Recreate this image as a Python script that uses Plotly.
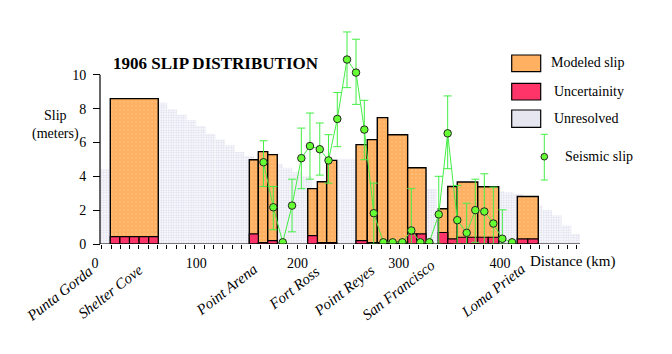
import numpy as np
import plotly.graph_objects as go

# ---------------- data ----------------
# Modeled slip segments (distance along fault, km) and slip (m)
bar_left = [15.1, 152.4, 161.3, 170.6, 210.1, 219.6, 228.8, 257.8, 268.9, 278.8,
            289.1, 308.8, 339.1, 348.4, 357.8, 378.0, 417.1]
bar_right = [62.5, 161.3, 170.6, 180.0, 219.6, 228.8, 238.7, 268.9, 278.8, 289.1,
             308.8, 326.9, 348.4, 357.8, 378.0, 398.7, 437.8]
modeled_slip = [8.59, 4.98, 5.46, 5.28, 3.27, 3.68, 4.94, 5.87, 6.17, 7.47,
                6.46, 4.51, 2.08, 3.40, 3.66, 3.38, 2.81]
uncertainty = [0.44, 0.60, 0.09, 0.20, 0.50, 0.08, 0.08, 0.20, 0.08, 0.08,
               0.10, 0.60, 0.68, 0.30, 0.40, 0.40, 0.30]
unc_cells = [5, 1, 1, 1, 1, 1, 1, 1, 1, 1, 2, 2, 1, 1, 2, 2, 2]

# Unresolved slip envelope (50 cells of 9.5 km starting at 4.94 km)
unres_start = 4.94
unres_step = 9.5
unresolved = [4.41, 8.40, 8.40, 8.40, 8.40, 8.40, 8.35, 7.96, 7.64, 7.31,
              6.97, 6.52, 6.18, 5.83, 5.43, 5.20, 5.00, 4.90, 4.74, 4.50,
              4.25, 4.00, 3.00, 3.50, 5.04, 5.04, 5.04, 5.00, 5.00, 5.00,
              4.80, 4.60, 4.40, 4.20, 3.27, 2.00, 3.20, 3.20, 3.20, 3.20,
              3.20, 3.12, 3.05, 2.97, 2.60, 2.28, 2.00, 1.69, 1.09, 0.60]

# Seismic slip estimates
seis_km = [166.4, 176.1, 185.4, 194.6, 203.8, 212.3, 222.0, 230.6, 239.3, 248.9,
           257.8, 266.0, 275.3, 284.7, 294.0, 303.5, 312.4, 321.3, 330.2, 339.5,
           348.3, 357.8, 367.1, 375.6, 384.5, 393.4, 402.3, 411.9]
seis_slip = [4.83, 2.17, 0.10, 2.27, 5.07, 5.79, 5.60, 4.94, 7.39, 10.90,
             10.13, 6.76, 1.82, 0.10, 0.10, 0.10, 0.80, 0.10, 0.10, 1.75,
             6.54, 1.41, 0.66, 2.00, 1.92, 1.21, 0.31, 0.10]
seis_err_plus = [1.27, 1.23, 0.00, 1.56, 1.78, 1.95, 1.55, 1.52, 1.56, 1.63,
                 1.97, 1.73, 1.78, 0.00, 0.00, 0.00, 2.47, 0.00, 0.00, 2.25,
                 2.21, 2.05, 1.75, 1.83, 2.23, 2.15, 1.71, 0.00]
seis_err_minus = [1.43, 1.33, 0.00, 1.55, 1.80, 1.96, 1.53, 1.34, 1.64, 1.66,
                  1.88, 1.78, 1.82, 0.00, 0.00, 0.00, 0.80, 0.00, 0.00, 1.75,
                  2.09, 1.41, 0.66, 1.90, 1.92, 1.21, 0.31, 0.00]

x_tick_vals = [0, 100, 200, 300, 400]
x_tick_text = ["0", "100", "200", "300", "400"]
y_tick_vals = [0, 2, 4, 6, 8, 10]

place_names = ["Punta Gorda", "Shelter Cove", "Point Arena", "Fort Ross",
               "Point Reyes", "San Francisco", "Loma Prieta"]

# ---------------- styling ----------------
SERIF = "Liberation Serif, Times New Roman, serif"
ORANGE = "#FFB060"
PINK = "#FF3468"
GREEN_LINE = "#44EE44"
GREEN_MARK = "#66FF33"

W, H = 672, 354
ML, MR, MT, MB = 90, 92, 24, 110
XR = [-4.94, 479.0]
YR = [0, 13]


def px_x(px):
    return (px - ML) / (W - ML - MR)


def px_y(py):
    return (H - MB - py) / (H - MT - MB)


fig = go.Figure()

# unresolved envelope
u_left = unres_start + unres_step * np.arange(len(unresolved))
fig.add_trace(go.Bar(
    x=u_left + unres_step / 2, y=unresolved, width=[unres_step] * len(unresolved),
    marker=dict(color="white", line=dict(width=0),
                pattern=dict(shape=".", fgcolor="#C0C0DE", bgcolor="white",
                             size=2.5, solidity=0.5, fillmode="overlay")),
    hoverinfo="skip"))

# modeled slip
bl = np.array(bar_left)
br = np.array(bar_right)
fig.add_trace(go.Bar(
    x=(bl + br) / 2, y=modeled_slip, width=br - bl,
    marker=dict(color=ORANGE, line=dict(color="black", width=1.4),
                pattern=dict(shape=".", fgcolor="#FFE6CC", size=4,
                             solidity=0.12, fillmode="overlay"))))

# uncertainty (split in cells)
ux, uy, uw = [], [], []
for l, r, u, n in zip(bar_left, bar_right, uncertainty, unc_cells):
    w = (r - l) / n
    for k in range(n):
        ux.append(l + w * (k + 0.5))
        uy.append(u)
        uw.append(w)
fig.add_trace(go.Bar(
    x=ux, y=uy, width=uw,
    marker=dict(color=PINK, line=dict(color="black", width=1.2))))

# seismic slip
fig.add_trace(go.Scatter(
    x=seis_km, y=seis_slip, mode="lines+markers",
    line=dict(color=GREEN_LINE, width=1),
    marker=dict(size=7.5, color=GREEN_MARK, line=dict(color="#222222", width=1)),
    error_y=dict(type="data", symmetric=False, array=seis_err_plus,
                 arrayminus=seis_err_minus, color=GREEN_LINE, thickness=1, width=4)))

shapes = []
# axis lines
shapes.append(dict(type="line", xref="paper", yref="y", x0=px_x(100), x1=px_x(100),
                   y0=0, y1=10, line=dict(color="black", width=1.2), layer="above"))
shapes.append(dict(type="line", xref="x", yref="y", x0=XR[0] + 9.88, x1=XR[1],
                   y0=0, y1=0, line=dict(color="black", width=1.2), layer="above"))

# legend boxes
leg_boxes = [(55, 71.7, ORANGE), (83.3, 100, PINK), (110, 127.3, "#E6E6F0")]
for y0, y1, c in leg_boxes:
    shapes.append(dict(type="rect", xref="paper", yref="paper",
                       x0=px_x(511.7), x1=px_x(540.7), y0=px_y(y1), y1=px_y(y0),
                       fillcolor=c, line=dict(color="black", width=1.2)))
# seismic legend symbol
lx = 544.3
shapes.append(dict(type="line", xref="paper", yref="paper", x0=px_x(lx), x1=px_x(lx),
                   y0=px_y(180), y1=px_y(134.3), line=dict(color=GREEN_LINE, width=1)))
for cy in (134.3, 180):
    shapes.append(dict(type="line", xref="paper", yref="paper", x0=px_x(lx - 3.5),
                       x1=px_x(lx + 3.5), y0=px_y(cy), y1=px_y(cy),
                       line=dict(color=GREEN_LINE, width=1)))
shapes.append(dict(type="circle", xref="paper", yref="paper", x0=px_x(lx - 3.3),
                   x1=px_x(lx + 3.3), y0=px_y(160), y1=px_y(153.4),
                   fillcolor=GREEN_MARK, line=dict(color="#222222", width=1)))

annotations = []
leg_text = [("Modeled slip", 549.3, 62.7), ("Uncertainity", 551.7, 91.0),
            ("Unresolved", 552.3, 118.7), ("Seismic slip", 563.3, 156.0)]
for t, x, y in leg_text:
    annotations.append(dict(text=t, xref="paper", yref="paper", x=px_x(x), y=px_y(y),
                            xanchor="left", yanchor="middle", showarrow=False,
                            font=dict(family=SERIF, size=14, color="black")))
annotations.append(dict(text="Slip<br>(meters)", xref="paper", yref="paper",
                        x=px_x(55), y=px_y(125), xanchor="center", yanchor="middle",
                        showarrow=False, align="center",
                        font=dict(family=SERIF, size=14, color="black")))
annotations.append(dict(text="Distance (km)", xref="paper", yref="paper",
                        x=px_x(528), y=px_y(261), xanchor="left", yanchor="middle",
                        showarrow=False, font=dict(family=SERIF, size=15, color="black")))
label_px = [(59, 294), (110, 292), (226, 290), (294, 288), (343.5, 291),
            (398.5, 290), (492.5, 291)]
for name, (lxp, lyp) in zip(place_names, label_px):
    annotations.append(dict(text="<i>" + name + "</i>", xref="paper", yref="paper",
                            x=px_x(lxp), y=px_y(lyp), xanchor="center", yanchor="middle",
                            textangle=-38, showarrow=False,
                            font=dict(family=SERIF, size=15, color="black")))

fig.update_layout(
    width=W, height=H, margin=dict(l=ML, r=MR, t=MT, b=MB),
    plot_bgcolor="white", paper_bgcolor="white", barmode="overlay",
    showlegend=False,
    title=dict(text="<b>1906 SLIP DISTRIBUTION</b>", xref="container", yref="container",
               x=113 / W, y=1 - 63.5 / H, xanchor="left", yanchor="middle",
               font=dict(family=SERIF, size=17, color="black")),
    xaxis=dict(range=XR, showline=False, showgrid=False, zeroline=False,
               tickmode="array", tickvals=x_tick_vals, ticktext=x_tick_text,
               ticks="", ticklabelstandoff=9,
               tickfont=dict(family=SERIF, size=14, color="black"),
               minor=dict(tickmode="array",
                          tickvals=list(np.arange(6.6, 479.0, 9.2)),
                          ticks="outside", ticklen=4, tickcolor="black",
                          tickwidth=1, showgrid=False)),
    yaxis=dict(range=YR, anchor="free", position=px_x(100), showline=False,
               showgrid=False, zeroline=False, tickmode="array", tickvals=y_tick_vals,
               ticks="outside", ticklen=7, tickcolor="black", tickwidth=1,
               ticklabelstandoff=4,
               tickfont=dict(family=SERIF, size=14, color="black")),
    shapes=shapes, annotations=annotations,
)

fig.write_html("out.html")
